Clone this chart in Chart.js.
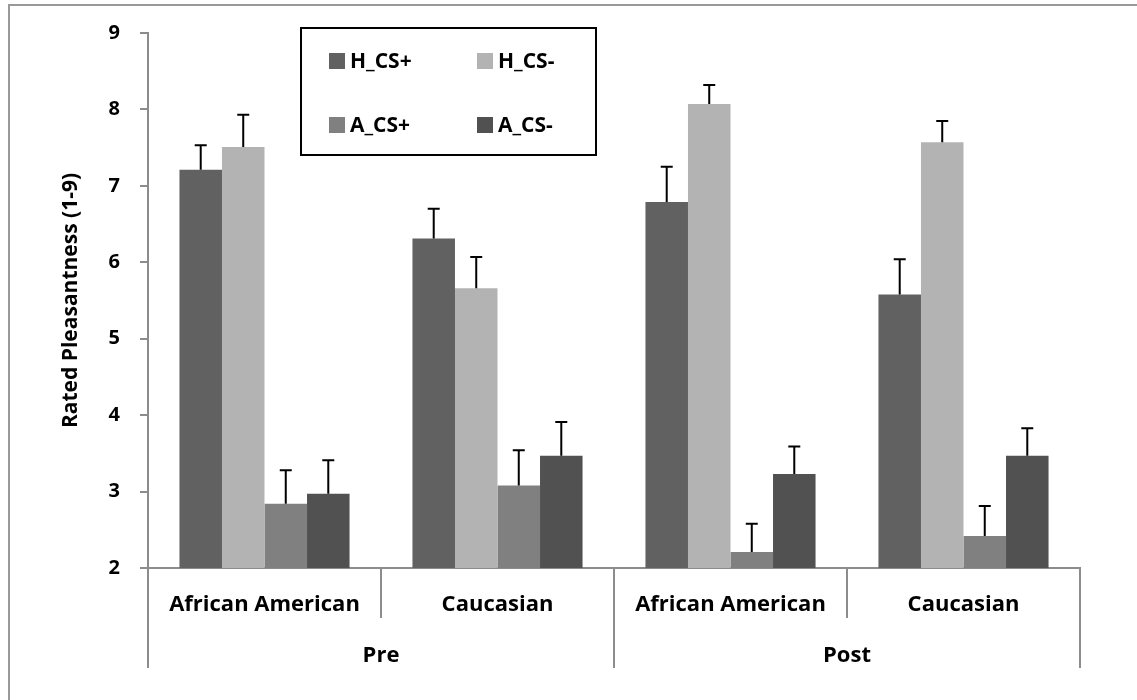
<!DOCTYPE html>
<html>
<head>
<meta charset="utf-8">
<script src="https://cdn.jsdelivr.net/npm/chart.js@4"></script>
<style>
  body { margin: 0; background: #fff; }
  #wrap { width: 1137px; height: 700px; }
</style>
</head>
<body>
<div id="wrap"><canvas id="chart" width="1137" height="700"></canvas></div>
<script>
const categories = ["African American", "Caucasian", "African American", "Caucasian"];
const phases = ["Pre", "Post"];

const seriesNames = ["H_CS+", "H_CS-", "A_CS+", "A_CS-"];
const seriesColors = ["#616161", "#b3b3b3", "#808080", "#515151"];

const hCsPlus = [7.21, 6.31, 6.79, 5.58];
const hCsMinus = [7.51, 5.66, 8.07, 7.57];
const aCsPlus = [2.84, 3.08, 2.21, 2.42];
const aCsMinus = [2.97, 3.47, 3.23, 3.47];

const hCsPlusErr = [0.32, 0.39, 0.46, 0.46];
const hCsMinusErr = [0.42, 0.41, 0.25, 0.28];
const aCsPlusErr = [0.44, 0.46, 0.37, 0.39];
const aCsMinusErr = [0.44, 0.44, 0.36, 0.36];

const yTicks = [2, 3, 4, 5, 6, 7, 8, 9];

const FONT = "'Open Sans', sans-serif";
const AXIS_GRAY = "#8c8c8c";

const values = [hCsPlus, hCsMinus, aCsPlus, aCsMinus];
const errors = [hCsPlusErr, hCsMinusErr, aCsPlusErr, aCsMinusErr];

// upward error bars, black with caps
const errorBars = {
    id: "errorBars",
    afterDatasetsDraw(chart) {
        const ctx = chart.ctx;
        const y = chart.scales.y;
        ctx.save();
        ctx.strokeStyle = "#000";
        ctx.lineWidth = 2;
        chart.data.datasets.forEach((ds, i) => {
            const meta = chart.getDatasetMeta(i);
            meta.data.forEach((bar, j) => {
                const top = y.getPixelForValue(ds.data[j] + ds.errors[j]);
                ctx.beginPath();
                ctx.moveTo(bar.x, bar.y);
                ctx.lineTo(bar.x, top);
                ctx.moveTo(bar.x - 6, top);
                ctx.lineTo(bar.x + 6, top);
                ctx.stroke();
            });
        });
        ctx.restore();
    }
};

// two-tier category axis + frame + legend box
const decorations = {
    id: "decorations",
    afterDraw(chart) {
        const ctx = chart.ctx;
        const x = chart.scales.x;
        const area = chart.chartArea;
        const half = (x.getPixelForValue(1) - x.getPixelForValue(0)) / 2;
        ctx.save();

        // outer frame (cropped at right/bottom)
        ctx.strokeStyle = "#999";
        ctx.lineWidth = 2;
        ctx.strokeRect(9, 5, 1300, 900);

        // dividers
        ctx.strokeStyle = AXIS_GRAY;
        ctx.lineWidth = 2;
        for (let i = 0; i <= categories.length; i++) {
            const px = Math.round(x.getPixelForValue(i) - half);
            const long = i % 2 === 0;
            ctx.beginPath();
            ctx.moveTo(px, area.bottom);
            ctx.lineTo(px, area.bottom + (long ? 100 : 50));
            ctx.stroke();
        }

        // phase labels
        ctx.fillStyle = "#000";
        ctx.font = "bold 22px " + FONT;
        ctx.textAlign = "center";
        ctx.textBaseline = "middle";
        phases.forEach((p, k) => {
            const cx = (x.getPixelForValue(2 * k) + x.getPixelForValue(2 * k + 1)) / 2;
            ctx.fillText(p, cx, area.bottom + 88);
        });

        // legend
        ctx.fillStyle = "#fff";
        ctx.fillRect(301, 28, 295, 127);
        ctx.strokeStyle = "#000";
        ctx.lineWidth = 2;
        ctx.strokeRect(301, 28, 295, 127);
        ctx.textAlign = "left";
        ctx.font = "bold 21px " + FONT;
        chart.data.datasets.forEach((ds, i) => {
            const col = i % 2;
            const row = Math.floor(i / 2);
            const lx = 329 + col * 148;
            const ly = 61 + row * 64;
            ctx.fillStyle = ds.backgroundColor;
            ctx.fillRect(lx, ly - 8, 16, 16);
            ctx.fillStyle = "#000";
            ctx.fillText(ds.label, lx + 21, ly + 1);
        });
        ctx.restore();
    }
};

new Chart(document.getElementById("chart"), {
    type: "bar",
    data: {
        labels: categories,
        datasets: seriesNames.map((name, i) => ({
            label: name,
            data: values[i],
            errors: errors[i],
            backgroundColor: seriesColors[i],
            borderWidth: 0,
            barPercentage: 1,
            categoryPercentage: 0.73
        }))
    },
    options: {
        responsive: false,
        animation: false,
        layout: { padding: { top: 33, right: 57, left: 0, bottom: 0 } },
        plugins: {
            legend: { display: false },
            tooltip: { enabled: false }
        },
        scales: {
            x: {
                grid: { display: false },
                border: { display: true, color: AXIS_GRAY, width: 2 },
                ticks: {
                    color: "#000",
                    font: { family: FONT, size: 22, weight: "bold" },
                    padding: 16,
                    maxRotation: 0
                },
                afterFit(scale) { scale.height = 132; }
            },
            y: {
                min: 2,
                max: 9,
                afterBuildTicks(scale) { scale.ticks = yTicks.map(v => ({ value: v })); },
                grid: {
                    drawOnChartArea: false,
                    drawTicks: true,
                    tickLength: 8,
                    color: AXIS_GRAY,
                    lineWidth: 2
                },
                border: { display: true, color: AXIS_GRAY, width: 2 },
                ticks: {
                    color: "#000",
                    font: { family: FONT, size: 20, weight: "bold" },
                    padding: 20
                },
                title: {
                    display: true,
                    text: "Rated Pleasantness (1-9)",
                    color: "#000",
                    font: { family: FONT, size: 21, weight: "bold" },
                    padding: { top: 58, bottom: 0 }
                },
                afterFit(scale) { scale.width = 148; }
            }
        }
    },
    plugins: [errorBars, decorations]
});
</script>
</body>
</html>
